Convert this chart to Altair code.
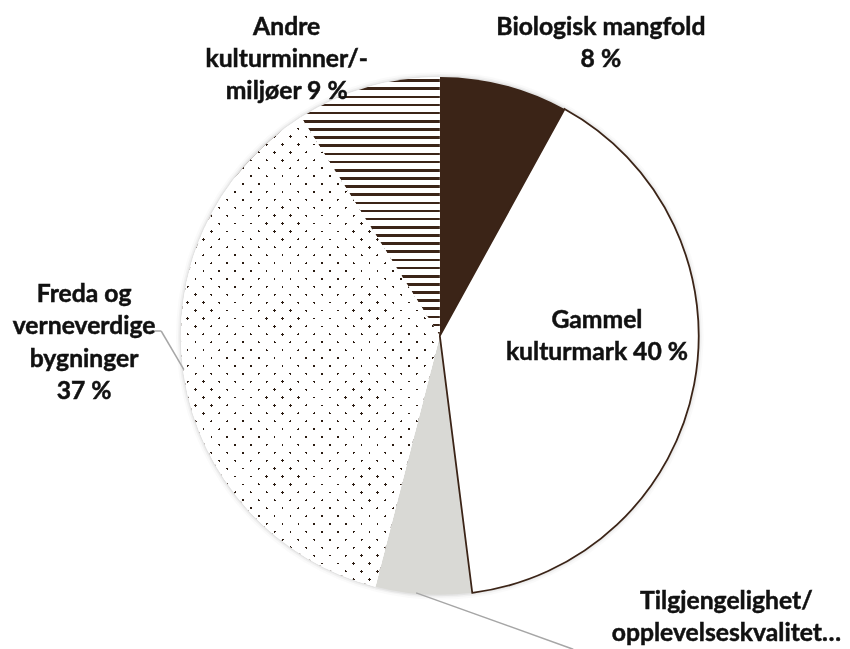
import math
import altair as alt
import pandas as pd

# ---- data -------------------------------------------------------------
categories = [
    "Biologisk mangfold",
    "Gammel kulturmark",
    "Tilgjengelighet/opplevelseskvalitet",
    "Freda og verneverdige bygninger",
    "Andre kulturminner/-miljøer",
]
shares = [8, 40, 6, 37, 9]
label_text = [
    "Biologisk mangfold\n8 %",
    "Gammel\nkulturmark 40 %",
    "Tilgjengelighet/\nopplevelseskvalitet…",
    "Freda og\nverneverdige\nbygninger\n37 %",
    "Andre\nkulturminner/-\nmiljøer 9 %",
]

df = pd.DataFrame({"category": categories, "share": shares,
                   "label": label_text, "order": list(range(len(categories)))})

# ---- layout / style ---------------------------------------------------
W, H = 834, 633
CX, CY, R = 437, 328, 262
BROWN = "#3b2417"
GREY = "#d9d9d5"
fills = [BROWN, "#ffffff", GREY, "#ffffff", "#ffffff"]


def stripe_stops(total, period, phase, dark_w, light, dark):
    stops = [alt.GradientStop(offset=0, color=light)]
    k = -2
    while True:
        s = phase + k * period
        e = s + dark_w
        if s >= total:
            break
        if e > 0:
            s0 = max(s, 0) / total
            e0 = min(e, total) / total
            stops += [alt.GradientStop(offset=s0, color=light),
                      alt.GradientStop(offset=s0, color=dark),
                      alt.GradientStop(offset=e0, color=dark),
                      alt.GradientStop(offset=e0, color=light)]
        k += 1
    stops.append(alt.GradientStop(offset=1, color=light))
    return stops


# horizontal stripes for "Andre" slice (bbox height = R)
andre_grad = alt.LinearGradient(
    gradient="linear", x1=0, y1=0, x2=0, y2=1,
    stops=stripe_stops(R, 8.25, 2.2, 2.7, "#ffffff", BROWN))

# dotted pattern for "Freda" slice: two diagonal stripe sets combined with "lighten"
cum = [sum(shares[:i]) for i in range(len(shares) + 1)]
a0 = cum[3] / 100 * 2 * math.pi
a1 = cum[4] / 100 * 2 * math.pi
bw = R
ytop = -R * math.cos(a1)
ybot = -R * math.cos(a0)
bh = ybot - ytop
k = (bw + bh) * bw / (bw * bw + bh * bh)
tot = bw + bh
DOT = "#2a1a10"
diagA = alt.LinearGradient(
    gradient="linear", x1=0, y1=0, x2=k, y2=k * bh / bw,
    stops=stripe_stops(tot, 16, 1.0, 2.6, "#ffffff", DOT))
diagB = alt.LinearGradient(
    gradient="linear", x1=0, y1=1, x2=k, y2=1 - k * bh / bw,
    stops=stripe_stops(tot, 16, 5.0, 2.6, "#ffffff", DOT))

base = (alt.Chart(df)
        .transform_window(end="sum(share)", sort=[alt.SortField("order")], frame=[None, 0])
        .transform_calculate(start="datum.end - datum.share"))

theta = alt.Theta("start:Q", stack=False,
                  scale=alt.Scale(domain=[0, 100], range=[0, 2 * math.pi]))
theta2 = alt.Theta2("end:Q")

layers = []

# soft shadow
for extra, op in [(5, 0.02), (3, 0.035), (1.5, 0.05)]:
    layers.append(base.mark_arc(x=CX, y=CY, outerRadius=R + extra, fill="#000000",
                                fillOpacity=op, strokeWidth=0)
                  .encode(theta=theta, theta2=theta2))

pie = base.mark_arc(x=CX, y=CY, outerRadius=R, strokeWidth=0).encode(
    theta=theta, theta2=theta2,
    fill=alt.Fill("category:N", scale=alt.Scale(domain=categories, range=fills), legend=None),
)
layers.append(pie)

layers.append(base.transform_filter(alt.datum.category == categories[4])
              .mark_arc(x=CX, y=CY, outerRadius=R, fill=andre_grad, strokeWidth=0)
              .encode(theta=theta, theta2=theta2))
layers.append(base.transform_filter(alt.datum.category == categories[3])
              .mark_arc(x=CX, y=CY, outerRadius=R, fill=diagA, strokeWidth=0)
              .encode(theta=theta, theta2=theta2))
layers.append(base.transform_filter(alt.datum.category == categories[3])
              .mark_arc(x=CX, y=CY, outerRadius=R, fill=diagB, strokeWidth=0, blend="lighten")
              .encode(theta=theta, theta2=theta2))
layers.append(base.transform_filter(alt.datum.category == categories[1])
              .mark_arc(x=CX, y=CY, outerRadius=R, fillOpacity=0, stroke=BROWN, strokeWidth=1.8)
              .encode(theta=theta, theta2=theta2))

# leader lines
LEAD = "#a6a6a6"
leaders = {
    categories[3]: [(144, 323, 155, 323), (155, 323, 178, 362)],
    categories[2]: [(413, 588, 572, 645)],
}
for cat, segs in leaders.items():
    for (x1, y1, x2, y2) in segs:
        layers.append(base.transform_filter(alt.datum.category == cat)
                      .mark_rule(color=LEAD, strokeWidth=1.5)
                      .encode(x=alt.value(x1), y=alt.value(y1),
                              x2=alt.value(x2), y2=alt.value(y2)))

# labels
label_pos = {
    categories[0]: (600, 23),
    categories[1]: (596, 320),
    categories[2]: (727, 604),
    categories[3]: (77, 294),
    categories[4]: (282, 23),
}
for cat, (px, py) in label_pos.items():
    layers.append(base.transform_filter(alt.datum.category == cat)
                  .mark_text(font="Lato", fontWeight="bold", fontSize=25, lineHeight=32.5,
                             align="center", baseline="alphabetic", lineBreak="\n",
                             color="#111111", stroke="#111111", strokeWidth=0.5)
                  .encode(text="label:N", x=alt.value(px), y=alt.value(py)))

chart = (alt.layer(*layers)
         .properties(width=W, height=H, padding=0)
         .configure_view(stroke=None))

chart.save("out.html", embed_options={"renderer": "svg", "actions": False})
